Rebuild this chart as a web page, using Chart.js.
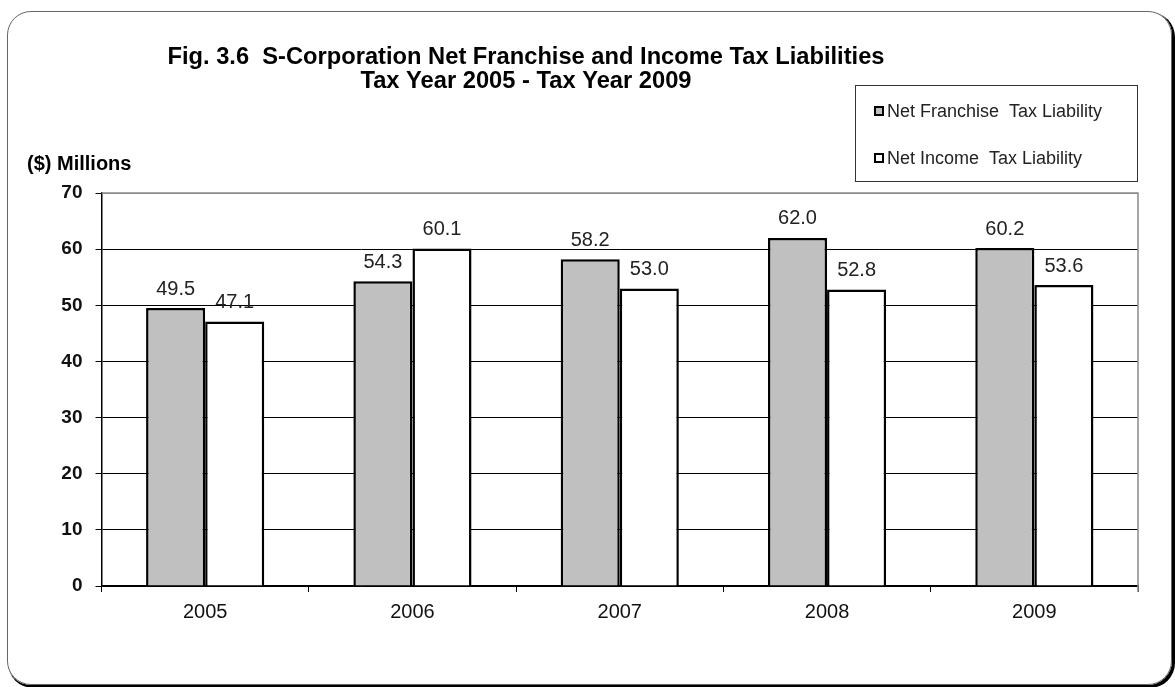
<!DOCTYPE html>
<html>
<head>
<meta charset="utf-8">
<script src="https://cdn.jsdelivr.net/npm/chart.js@4"></script>
<style>
   html, body { margin: 0; padding: 0; background: #fff; }
   #wrap { position: relative; width: 1175px; height: 687px; }
   #frame {
      position: absolute; left: 7px; top: 11px; width: 1163px; height: 672px;
      border: 1px solid #666; border-radius: 24px;
      box-shadow: 2px 2px 0 1px #000; pointer-events: none;
   }
</style>
</head>
<body>
<div id="wrap">
   <canvas id="chart"></canvas>
   <div id="frame"></div>
</div>
<script>
const years = ['2005', '2006', '2007', '2008', '2009'];
const franchiseTax = [49.5, 54.3, 58.2, 62.0, 60.2];
const incomeTax = [47.1, 60.1, 53.0, 52.8, 53.6];
const seriesNames = ['Net Franchise  Tax Liability', 'Net Income  Tax Liability'];
const titleLines = ['Fig. 3.6  S-Corporation Net Franchise and Income Tax Liabilities', 'Tax Year 2005 - Tax Year 2009'];
const unitLabel = '($) Millions';

const FONT = "'Liberation Sans', Arial, sans-serif";

// title, unit caption and boxed legend sit outside the plot area
let decorations = {
   id: 'decorations',
   afterDraw(chart) {
      let ctx = chart.ctx;
      ctx.save();
      ctx.fillStyle = '#000';
      ctx.textBaseline = 'middle';
      ctx.textAlign = 'center';
      ctx.font = `bold 24px ${FONT}`;
      // condensed title: squeeze both lines by the same factor
      let sx = Math.min(1, 717 / ctx.measureText(titleLines[0]).width);
      let titleY = [57, 81];
      titleLines.forEach((line, i) => {
         ctx.save();
         ctx.translate(526, titleY[i]);
         ctx.scale(sx, 1);
         ctx.fillText(line, 0, 0);
         ctx.restore();
      });

      ctx.textAlign = 'left';
      ctx.font = `bold 20px ${FONT}`;
      ctx.fillText(unitLabel, 27, 164);

      // legend box
      ctx.strokeStyle = '#333';
      ctx.lineWidth = 1;
      ctx.strokeRect(855.5, 85.5, 282, 96);
      ctx.font = `18px ${FONT}`;
      let rows = [111, 158];
      chart.data.datasets.forEach((ds, i) => {
         ctx.fillStyle = ds.backgroundColor;
         ctx.fillRect(874, rows[i] - 5, 10, 10);
         ctx.lineWidth = 2;
         ctx.strokeStyle = '#000';
         ctx.strokeRect(875, rows[i] - 4, 8, 8);
         ctx.fillStyle = '#222';
         ctx.fillText(ds.label, 887, rows[i] + 1);
      });

      // right and top edges of the plot area are grey
      let a = chart.chartArea;
      ctx.strokeStyle = '#8a8a8a';
      ctx.lineWidth = 1.5;
      ctx.beginPath();
      ctx.moveTo(a.left, a.top);
      ctx.lineTo(a.right, a.top);
      ctx.lineTo(a.right, a.bottom + 6);
      ctx.stroke();
      ctx.restore();
   }
};

// value above every bar
let valueLabels = {
   id: 'valueLabels',
   afterDatasetsDraw(chart) {
      let ctx = chart.ctx;
      ctx.save();
      ctx.font = `20px ${FONT}`;
      ctx.fillStyle = '#222';
      ctx.textAlign = 'center';
      ctx.textBaseline = 'middle';
      chart.data.datasets.forEach((ds, i) => {
         chart.getDatasetMeta(i).data.forEach((bar, j) => {
            ctx.fillText(ds.data[j].toFixed(1), bar.x, bar.y - 19);
         });
      });
      ctx.restore();
   }
};

let data = {
   labels: years,
   datasets: [{
      label: seriesNames[0],
      data: franchiseTax,
      backgroundColor: '#c0c0c0',
      borderColor: '#000',
      borderWidth: 2.5,
      borderSkipped: 'bottom'
   }, {
      label: seriesNames[1],
      data: incomeTax,
      backgroundColor: '#ffffff',
      borderColor: '#000',
      borderWidth: 2.5,
      borderSkipped: 'bottom'
   }]
};

let options = {
   responsive: true,
   maintainAspectRatio: false,
   animation: false,
   layout: { padding: { top: 193, right: 37, left: 0, bottom: 0 } },
   datasets: { bar: { barPercentage: 1, categoryPercentage: 0.57 } },
   plugins: {
      legend: { display: false },
      title: { display: false },
      tooltip: { enabled: false }
   },
   scales: {
      x: {
         offset: true,
         grid: {
            offset: true,
            drawOnChartArea: false,
            tickLength: 6,
            tickColor: '#000',
            color: '#000'
         },
         border: { color: '#000', width: 1.5 },
         ticks: { color: '#111', padding: 8, font: { family: FONT, size: 20 } },
         afterFit(scale) { scale.height = 101; }
      },
      y: {
         min: 0,
         max: 70,
         ticks: { stepSize: 10, color: '#111', padding: 13, font: { family: FONT, size: 19, weight: 'bold' } },
         grid: {
            color: (ctx) => ctx.tick && ctx.tick.value == 70 ? '#8a8a8a' : '#000',
            tickColor: '#000',
            tickLength: 6,
            lineWidth: 1
         },
         border: { color: '#000', width: 1.5 },
         afterFit(scale) { scale.width = 101.5; }
      }
   }
};

new Chart(document.getElementById('chart'), {
   type: 'bar',
   data: data,
   options: options,
   plugins: [valueLabels, decorations]
});
</script>
</body>
</html>
